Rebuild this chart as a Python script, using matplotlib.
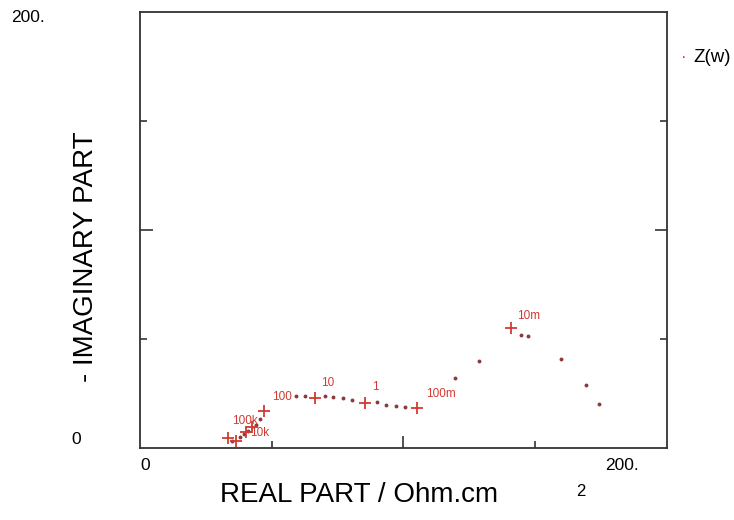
import matplotlib.pyplot as plt

plt.rcParams['font.family'] = ['Liberation Sans', 'DejaVu Sans']

# Impedance points Z(w) (real, -imag) in Ohm.cm2
re_dots = [38.4, 41.7, 43.4, 45.1, 48.4, 50.1, 65.1, 68.9, 77.2, 80.6, 84.8, 88.5,
           98.9, 102.7, 106.9, 110.6, 131.5, 141.5, 159.1, 162.0, 175.8, 186.2, 191.6]
im_dots = [3.2, 5.0, 6.4, 7.8, 10.6, 13.3, 23.9, 23.9, 23.9, 23.4, 22.9, 22.0,
           21.1, 19.7, 19.3, 18.8, 32.1, 39.9, 51.8, 51.4, 40.8, 28.9, 20.2]

# decade markers
re_cross = [36.7, 40.1, 44.3, 46.8, 51.8, 73.1, 93.9, 115.6, 154.8]
im_cross = [4.6, 3.2, 7.3, 9.6, 17.0, 22.9, 20.6, 18.3, 55.0]

# frequency labels
freq_labels = ["100k", "10k", "100", "10", "1", "100m", "10m"]
freq_x = [44.0, 49.8, 59.2, 78.5, 98.1, 125.7, 162.4]
freq_y = [12.3, 6.9, 23.4, 29.8, 28.0, 24.8, 60.6]

red = "#d23a32"
dot_col = "#8a3c3c"

fig = plt.figure(figsize=(7.34, 5.2), dpi=100)
ax = fig.add_axes([0.1907, 0.1385, 0.718, 0.8385])

ax.plot(re_dots, im_dots, linestyle="none", marker="o", markersize=1.8,
        color=dot_col)
ax.plot(re_cross, im_cross, linestyle="none", marker="+", markersize=8.5,
        markeredgewidth=1.3, color=red)
for lab, x, y in zip(freq_labels, freq_x, freq_y):
    ax.text(x, y, lab, color=red, fontsize=8.5, ha="center", va="center")

ax.set_xlim(0, 220)
ax.set_ylim(0, 200)

# inward ticks at quarters, middle one longer
ax.set_xticks([110])
ax.set_xticks([55, 165], minor=True)
ax.set_yticks([100])
ax.set_yticks([50, 150], minor=True)
ax.set_xticklabels([])
ax.set_yticklabels([])
ax.tick_params(which="both", direction="in", left=True, right=True,
               bottom=True, top=False, color="#333333", width=1.2)
ax.tick_params(which="major", length=9)
ax.tick_params(which="minor", length=5)

for s in ax.spines.values():
    s.set_color("#333333")
    s.set_linewidth(1.3)

# axis end labels
fig.text(28 / 734, 1 - 18 / 520, "200.", fontsize=12.5, ha="center", va="center")
fig.text(76 / 734, 1 - 440 / 520, "0", fontsize=12.5, ha="center", va="center")
fig.text(145 / 734, 1 - 466 / 520, "0", fontsize=12.5, ha="center", va="center")
fig.text(622 / 734, 1 - 466 / 520, "200.", fontsize=12.5, ha="center", va="center")

# axis titles
fig.text(359 / 734, 1 - 495 / 520, "REAL PART / Ohm.cm", fontsize=20,
         ha="center", va="center")
fig.text(581 / 734, 1 - 491 / 520, "2", fontsize=12, ha="center", va="center")
fig.text(86 / 734, 1 - 257 / 520, "- IMAGINARY PART", fontsize=20,
         ha="center", va="center", rotation=90)

# legend
fig.text(684 / 734, 1 - 57 / 520, "·", color=red, fontsize=12,
         ha="center", va="center")
fig.text(693 / 734, 1 - 57 / 520, "Z(w)", fontsize=13.5, ha="left", va="center")

plt.savefig("out.png", dpi=100)
plt.close()
